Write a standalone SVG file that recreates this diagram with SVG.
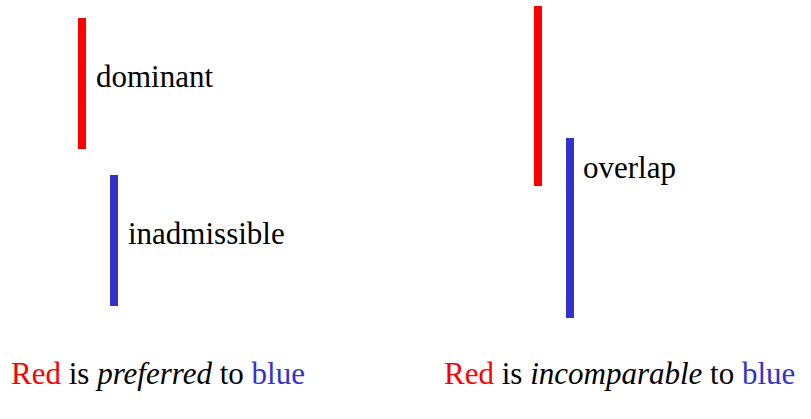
<svg xmlns="http://www.w3.org/2000/svg" width="811" height="419" viewBox="0 0 811 419">
  <rect width="811" height="419" fill="#fff"/>

  <!-- left panel: dominant vs inadmissible -->
  <g id="dominant">
    <rect x="78" y="18" width="8" height="131" fill="#ff0000"/>
    <text x="96" y="87" font-family="Times New Roman" font-size="31">dominant</text>
  </g>
  <g id="inadmissible">
    <rect x="110" y="175" width="8" height="131" fill="#3333cc"/>
    <text x="128" y="244" font-family="Times New Roman" font-size="31">inadmissible</text>
  </g>
  <g id="caption-left">
    <text x="11" y="384" font-family="Times New Roman" font-size="31"><tspan fill="#ff0000">Red</tspan> is <tspan font-style="italic">preferred</tspan> to <tspan fill="#3333cc">blue</tspan></text>
  </g>

  <!-- right panel: overlapping intervals -->
  <g id="red-interval">
    <rect x="534" y="6" width="8" height="180" fill="#ff0000"/>
  </g>
  <g id="overlap">
    <rect x="566" y="138" width="8" height="180" fill="#3333cc"/>
    <text x="583" y="178" font-family="Times New Roman" font-size="31">overlap</text>
  </g>
  <g id="caption-right">
    <text x="444" y="384" font-family="Times New Roman" font-size="31"><tspan fill="#ff0000">Red</tspan> is <tspan font-style="italic">incomparable</tspan> to <tspan fill="#3333cc">blue</tspan></text>
  </g>
</svg>
